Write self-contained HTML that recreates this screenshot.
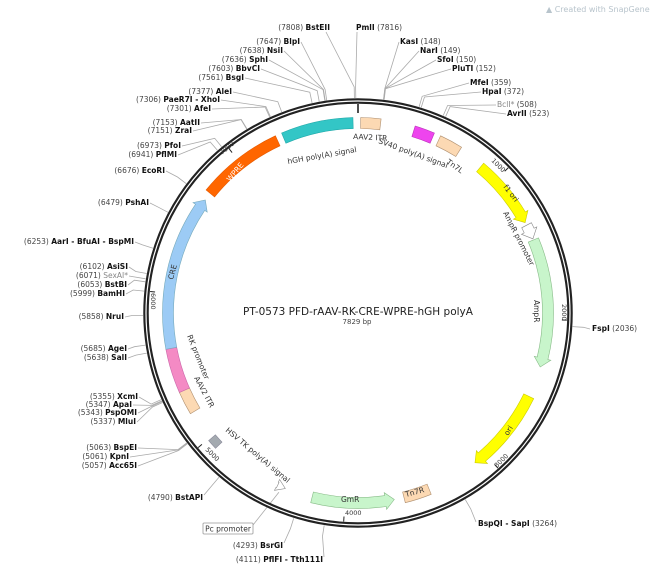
<!DOCTYPE html>
<html><head><meta charset="utf-8">
<style>
html,body{margin:0;padding:0;background:#fff;}
svg{display:block;}
text{font-family:"DejaVu Sans","Liberation Sans",sans-serif;}
.n{font-size:7.5px;fill:#444;}
.b{font-size:7.5px;font-weight:bold;fill:#111;}
.g{font-size:7.5px;fill:#888;}
.f{font-size:7.5px;fill:#333;}
.t{font-size:6.5px;fill:#333;}
</style></head><body>
<svg id="s" width="650" height="569" viewBox="0 0 650 569" xmlns="http://www.w3.org/2000/svg">
<g id="lines" stroke="#aaa" stroke-width="0.8" fill="none"></g>
<circle cx="358" cy="313" r="212" fill="none" stroke="#222" stroke-width="5.5"/>
<circle cx="358" cy="313" r="212" fill="none" stroke="#fff" stroke-width="1.2"/>
<g id="feat"></g>
<g id="ticks" stroke="#222" stroke-width="1"></g>

<text x="546" y="12" font-size="8" fill="#b8c4cc">▲ Created with SnapGene®</text>

<text x="358" y="315" text-anchor="middle" font-size="10.5" fill="#222">PT-0573   PFD-rAAV-RK-CRE-WPRE-hGH polyA</text>
<text x="357" y="324" text-anchor="middle" font-size="7" fill="#444">7829 bp</text>

<text x="330" y="30" text-anchor="end"><tspan class="n">(7808)  </tspan><tspan class="b">BstEII</tspan></text>
<text x="356" y="30"><tspan class="b">PmlI</tspan><tspan class="n">  (7816)</tspan></text>
<text x="300" y="44" text-anchor="end"><tspan class="n">(7647)  </tspan><tspan class="b">BlpI</tspan></text>
<text x="283" y="53" text-anchor="end"><tspan class="n">(7638)  </tspan><tspan class="b">NsiI</tspan></text>
<text x="268" y="62" text-anchor="end"><tspan class="n">(7636)  </tspan><tspan class="b">SphI</tspan></text>
<text x="260" y="71" text-anchor="end"><tspan class="n">(7603)  </tspan><tspan class="b">BbvCI</tspan></text>
<text x="244" y="80" text-anchor="end"><tspan class="n">(7561)  </tspan><tspan class="b">BsgI</tspan></text>
<text x="232" y="94" text-anchor="end"><tspan class="n">(7377)  </tspan><tspan class="b">AleI</tspan></text>
<text x="220" y="102" text-anchor="end"><tspan class="n">(7306)  </tspan><tspan class="b">PaeR7I - XhoI</tspan></text>
<text x="211" y="111" text-anchor="end"><tspan class="n">(7301)  </tspan><tspan class="b">AfeI</tspan></text>
<text x="200" y="125" text-anchor="end"><tspan class="n">(7153)  </tspan><tspan class="b">AatII</tspan></text>
<text x="192" y="133" text-anchor="end"><tspan class="n">(7151)  </tspan><tspan class="b">ZraI</tspan></text>
<text x="181" y="148" text-anchor="end"><tspan class="n">(6973)  </tspan><tspan class="b">PfoI</tspan></text>
<text x="177" y="157" text-anchor="end"><tspan class="n">(6941)  </tspan><tspan class="b">PflMI</tspan></text>
<text x="165" y="173" text-anchor="end"><tspan class="n">(6676)  </tspan><tspan class="b">EcoRI</tspan></text>
<text x="149" y="205" text-anchor="end"><tspan class="n">(6479)  </tspan><tspan class="b">PshAI</tspan></text>
<text x="134" y="244" text-anchor="end"><tspan class="n">(6253)  </tspan><tspan class="b">AarI - BfuAI - BspMI</tspan></text>
<text x="128" y="269" text-anchor="end"><tspan class="n">(6102)  </tspan><tspan class="b">AsiSI</tspan></text>
<text x="128" y="278" text-anchor="end"><tspan class="n">(6071)  </tspan><tspan class="g">SexAI*</tspan></text>
<text x="127" y="287" text-anchor="end"><tspan class="n">(6053)  </tspan><tspan class="b">BstBI</tspan></text>
<text x="125" y="296" text-anchor="end"><tspan class="n">(5999)  </tspan><tspan class="b">BamHI</tspan></text>
<text x="124" y="319" text-anchor="end"><tspan class="n">(5858)  </tspan><tspan class="b">NruI</tspan></text>
<text x="127" y="351" text-anchor="end"><tspan class="n">(5685)  </tspan><tspan class="b">AgeI</tspan></text>
<text x="127" y="360" text-anchor="end"><tspan class="n">(5638)  </tspan><tspan class="b">SalI</tspan></text>
<text x="138" y="399" text-anchor="end"><tspan class="n">(5355)  </tspan><tspan class="b">XcmI</tspan></text>
<text x="132" y="407" text-anchor="end"><tspan class="n">(5347)  </tspan><tspan class="b">ApaI</tspan></text>
<text x="137" y="415" text-anchor="end"><tspan class="n">(5343)  </tspan><tspan class="b">PspOMI</tspan></text>
<text x="136" y="424" text-anchor="end"><tspan class="n">(5337)  </tspan><tspan class="b">MluI</tspan></text>
<text x="137" y="450" text-anchor="end"><tspan class="n">(5063)  </tspan><tspan class="b">BspEI</tspan></text>
<text x="129" y="459" text-anchor="end"><tspan class="n">(5061)  </tspan><tspan class="b">KpnI</tspan></text>
<text x="137" y="468" text-anchor="end"><tspan class="n">(5057)  </tspan><tspan class="b">Acc65I</tspan></text>
<text x="203" y="500" text-anchor="end"><tspan class="n">(4790)  </tspan><tspan class="b">BstAPI</tspan></text>
<text x="283" y="548" text-anchor="end"><tspan class="n">(4293)  </tspan><tspan class="b">BsrGI</tspan></text>
<text x="323" y="562" text-anchor="end"><tspan class="n">(4111)  </tspan><tspan class="b">PflFI - Tth111I</tspan></text>
<rect x="203" y="523" width="50" height="11" fill="#fff" stroke="#999" stroke-width="0.8" rx="1"/>
<text x="228" y="531.5" text-anchor="middle" class="f">Pc promoter</text>

<text x="400" y="44"><tspan class="b">KasI</tspan><tspan class="n">  (148)</tspan></text>
<text x="420" y="53"><tspan class="b">NarI</tspan><tspan class="n">  (149)</tspan></text>
<text x="437" y="62"><tspan class="b">SfoI</tspan><tspan class="n">  (150)</tspan></text>
<text x="452" y="71"><tspan class="b">PluTI</tspan><tspan class="n">  (152)</tspan></text>
<text x="470" y="85"><tspan class="b">MfeI</tspan><tspan class="n">  (359)</tspan></text>
<text x="482" y="94"><tspan class="b">HpaI</tspan><tspan class="n">  (372)</tspan></text>
<text x="497" y="107"><tspan class="g">BclI*</tspan><tspan class="n">  (508)</tspan></text>
<text x="507" y="116"><tspan class="b">AvrII</tspan><tspan class="n">  (523)</tspan></text>
<text x="592" y="331"><tspan class="b">FspI</tspan><tspan class="n">  (2036)</tspan></text>
<text x="478" y="526"><tspan class="b">BspQI - SapI</tspan><tspan class="n">  (3264)</tspan></text>

<text class="f" transform="translate(353,139) rotate(3)">AAV2 ITR</text>
<text class="f" transform="translate(288,164) rotate(-10)">hGH poly(A) signal</text>
<text class="f" transform="translate(378,143) rotate(20)">SV40 poly(A) signal</text>
<text class="f" transform="translate(446,163) rotate(35)">Tn7L</text>
<text font-size="7.5" fill="#fff" transform="translate(230,182) rotate(-50)">WPRE</text>
<text class="f" transform="translate(503,187) rotate(52)">f1 ori</text>
<text class="f" transform="translate(503,213) rotate(63)">AmpR promoter</text>
<text class="f" transform="translate(534,300) rotate(90)">AmpR</text>
<text class="f" transform="translate(508,436) rotate(-58)">ori</text>
<text class="f" transform="translate(406,497) rotate(-15)">Tn7R</text>
<text class="f" transform="translate(341,502)">GmR</text>
<text class="f" transform="translate(173,280) rotate(-75)">CRE</text>
<text class="f" transform="translate(187,336) rotate(68)">RK promoter</text>
<text class="f" transform="translate(194,378) rotate(62)">AAV2 ITR</text>
<text class="f" transform="translate(225,431) rotate(40)">HSV TK poly(A) signal</text>

<text class="t" transform="translate(222,155) rotate(-40)">7000</text>
<text class="t" transform="translate(491,161) rotate(45)">1000</text>
<text class="t" transform="translate(562,304) rotate(90)">2000</text>
<text class="t" transform="translate(497,468) rotate(-45)">3000</text>
<text class="t" transform="translate(345,515)">4000</text>
<text class="t" transform="translate(205,450) rotate(45)">5000</text>
<text class="t" transform="translate(151,293) rotate(90)">6000</text>
</svg>
<script>
(function(){
var cx=358,cy=313,NS="http://www.w3.org/2000/svg",T=7829;
function P(d,r){var a=d*Math.PI/180;return [cx+r*Math.sin(a),cy-r*Math.cos(a)];}
function el(g,tag,at){var e=document.createElementNS(NS,tag);for(var k in at)e.setAttribute(k,at[k]);document.getElementById(g).appendChild(e);return e;}
function f(p){return p[0].toFixed(1)+","+p[1].toFixed(1);}
function band(t1,t2,r,w,dir,fill,stroke){
 var ro=r+w/2,ri=r-w/2,h=9/r*180/Math.PI,a1=t1,a2=t2;
 if(dir==1)a2=t2-h; if(dir==-1)a1=t1+h;
 var lg=(a2-a1)>180?1:0;
 var d="M"+f(P(a1,ro))+" A"+ro+","+ro+" 0 "+lg+" 1 "+f(P(a2,ro));
 if(dir==1){d+=" L"+f(P(a2,ro+3))+" L"+f(P(t2,r))+" L"+f(P(a2,ri-3));}
 d+=" L"+f(P(a2,ri))+" A"+ri+","+ri+" 0 "+lg+" 0 "+f(P(a1,ri));
 if(dir==-1){d+=" L"+f(P(a1,ri-3))+" L"+f(P(t1,r))+" L"+f(P(a1,ro+3));}
 d+=" Z";
 el("feat","path",{d:d,fill:fill,stroke:stroke||"none","stroke-width":0.6});
}
var R=190,W=11;
band(0.8,6.8,R,W,0,"#fcd9b3","#b09070");
band(-23,-1.5,R,W,0,"#33c6c6","#2aa");
band(-51,-25,R,W,0,"#ff6600","#e55a00");
band(17,23,R,W,0,"#ee44ee","#b3b");
band(25,32,R,W,0,"#fcd9b3","#b09070");
band(40,61.6,R,W,1,"#ffff00","#cc0");
band(62.5,67,R,W,1,"#ffffff","#888");
band(67.4,106.5,R,W,1,"#c8f5cb","#8b8");
band(116,142,R,W,1,"#ffff00","#cc0");
band(158,166,R,W,0,"#fcd9b3","#b09070");
band(169,194,R,W,-1,"#c8f5cb","#8b8");
band(202.5,205,R,6,-1,"#ffffff","#888");
band(226.5,229.5,R+2,9,0,"#a4aab0","#889");
band(239,246,R,W,0,"#fcd9b3","#b09070");
band(246,259.3,R,W,0,"#f48ac4","#c6a");
band(259.3,306.5,R,W,1,"#9ccbf5","#7ab");
[0,1000,2000,3000,4000,5000,6000,7000].forEach(function(b){var d=b/T*360;var a=P(d,209),c=P(d,b==0?200:204);el("ticks","line",{x1:a[0],y1:a[1],x2:c[0],y2:c[1],"stroke-width":b==0?1.6:1});});
var E=[[7808,326,32],[7816,357,32],[7647,301,42],[7638,284,51],[7636,269,60],[7603,261,69],[7561,245,78],[7377,233,92],[7306,221,100],[7301,212,109],[7153,201,123],[7151,193,131],[6973,182,146],[6941,178,155],[6676,166,171],[6479,150,203],[6253,135,242],[6102,129,267],[6071,129,276],[6053,128,285],[5999,126,294],[5858,125,317],[5685,128,349],[5638,128,358],[5355,139,397],[5347,133,405],[5343,138,413],[5337,137,422],[5063,138,448],[5061,130,457],[5057,138,466],[4790,204,495],[4293,284,543],[4111,324,557],
[148,399,42],[149,419,51],[150,436,60],[152,451,69],[359,469,83],[372,481,92],[508,496,105],[523,506,114],[2036,590,329],[3264,476,522]];
E.forEach(function(e){var d=e[0]/T*360;var a=P(d,226),b=P(d,215);el("lines","polyline",{points:e[1]+","+e[2]+" "+f(a)+" "+f(b)});});
var pp=P(203.8,196);el("lines","polyline",{points:"253,525 "+f(pp)});
})();
</script>
</body></html>
